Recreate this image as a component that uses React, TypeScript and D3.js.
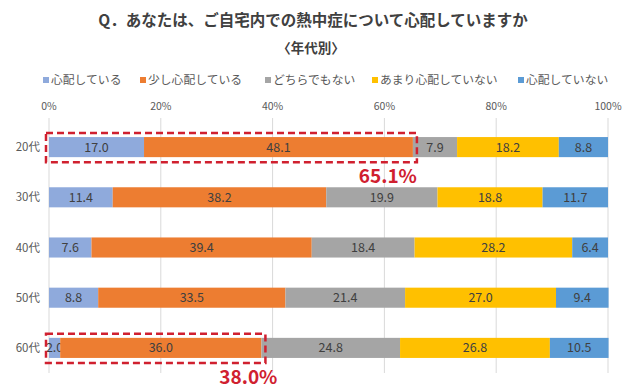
import React, { useEffect, useRef } from 'react';
import * as d3 from 'd3';

const categories = ['20代', '30代', '40代', '50代', '60代'];
const seriesNames = ['心配している', '少し心配している', 'どちらでもない', 'あまり心配していない', '心配していない'];
const s1 = [17.0, 11.4, 7.6, 8.8, 2.0];
const s2 = [48.1, 38.2, 39.4, 33.5, 36.0];
const s3 = [7.9, 19.9, 18.4, 21.4, 24.8];
const s4 = [18.2, 18.8, 28.2, 27.0, 26.8];
const s5 = [8.8, 11.7, 6.4, 9.4, 10.5];
const tickValues = [0, 20, 40, 60, 80, 100];
// 強調枠（カテゴリ, 合計）
const highlights = [
  { cat: '20代', total: 65.1 },
  { cat: '60代', total: 38.0 },
];

const colors = ['#8faadc', '#ed7d31', '#a5a5a5', '#ffc000', '#5b9bd5'];
const FONT = '"Noto Sans CJK JP", "Noto Sans", sans-serif';

const App = () => {
  const ref = useRef<SVGSVGElement>(null);

  useEffect(() => {
    const width = 640;
    const height = 392;
    const svg = d3.select(ref.current);
    svg.selectAll('*').remove();

    const series = [s1, s2, s3, s4, s5];
    const rows = categories.map((c, i) => {
      const r: any = { cat: c };
      seriesNames.forEach((k, j) => (r[k] = series[j][i]));
      return r;
    });
    const stacked = d3.stack().keys(seriesNames)(rows);

    const x = d3.scaleLinear().domain([0, 100]).range([49, 608]);
    const y = d3.scaleBand().domain(categories).range([122, 373]).paddingInner(0.6).paddingOuter(0.3);

    svg.append('rect').attr('width', width).attr('height', height).attr('fill', '#fff');

    // タイトル
    svg.append('text')
      .attr('x', 313).attr('y', 20).attr('dy', '0.36em')
      .attr('text-anchor', 'middle')
      .style('font-family', FONT).style('font-size', '15.5px').style('font-weight', 'bold')
      .attr('fill', '#404040')
      .text('Q．あなたは、ご自宅内での熱中症について心配していますか');
    svg.append('text')
      .attr('x', 311).attr('y', 48).attr('dy', '0.36em')
      .attr('text-anchor', 'middle')
      .style('font-family', FONT).style('font-size', '13.5px').style('font-weight', 'bold')
      .attr('fill', '#404040')
      .text('〈年代別〉');

    // 凡例
    const legendX = [43, 140, 265, 372, 518];
    const lg = svg.append('g').selectAll('g').data(seriesNames).enter().append('g')
      .attr('transform', (d, i) => `translate(${legendX[i]},80)`);
    lg.append('rect').attr('x', 0).attr('y', -3).attr('width', 6).attr('height', 6)
      .attr('fill', (d, i) => colors[i]);
    lg.append('text').attr('x', 8).attr('y', 0).attr('dy', '0.36em')
      .style('font-family', FONT).style('font-size', '11.8px').attr('fill', '#595959')
      .text(d => d);

    // 目盛とグリッド
    svg.append('g')
      .selectAll('line').data(tickValues).enter().append('line')
      .attr('x1', d => x(d)).attr('x2', d => x(d))
      .attr('y1', 118).attr('y2', 373)
      .attr('stroke', '#d9d9d9').attr('stroke-width', 1);
    svg.append('g')
      .selectAll('text').data(tickValues).enter().append('text')
      .attr('x', d => x(d)).attr('y', 106).attr('dy', '0.35em')
      .attr('text-anchor', 'middle')
      .style('font-family', FONT).style('font-size', '10.5px').attr('fill', '#595959')
      .text(d => `${d}%`);

    // カテゴリラベル
    svg.append('g')
      .selectAll('text').data(categories).enter().append('text')
      .attr('x', 40).attr('y', d => (y(d) as number) + y.bandwidth() / 2).attr('dy', '0.35em')
      .attr('text-anchor', 'end')
      .style('font-family', FONT).style('font-size', '11.5px').attr('fill', '#595959')
      .text(d => d);

    // 棒
    const layers = svg.append('g').selectAll('g').data(stacked).enter().append('g')
      .attr('fill', (d, i) => colors[i]);
    layers.selectAll('rect').data(d => d).enter().append('rect')
      .attr('x', d => x(d[0]))
      .attr('y', d => y((d.data as any).cat) as number)
      .attr('width', d => x(d[1]) - x(d[0]))
      .attr('height', y.bandwidth());

    // 値ラベル
    layers.selectAll('text').data(d => d).enter().append('text')
      .attr('x', d => (x(d[0]) + x(d[1])) / 2)
      .attr('y', d => (y((d.data as any).cat) as number) + y.bandwidth() / 2)
      .attr('dy', '0.36em')
      .attr('text-anchor', 'middle')
      .style('font-family', FONT).style('font-size', '12.5px').attr('fill', '#404040')
      .text(d => (d[1] - d[0]).toFixed(1));

    // 強調枠
    const hg = svg.append('g').selectAll('g').data(highlights).enter().append('g');
    hg.append('rect')
      .attr('x', 46)
      .attr('y', d => (y(d.cat) as number) - 4)
      .attr('width', d => x(d.total) + 4 - 46)
      .attr('height', y.bandwidth() + 9)
      .attr('fill', 'none')
      .attr('stroke', '#d0202f').attr('stroke-width', 2.5)
      .attr('stroke-dasharray', '7,4');
    hg.append('text')
      .attr('x', d => x(d.total) + (d.total < 50 ? 16 : 4))
      .attr('y', d => (y(d.cat) as number) + y.bandwidth() + 26)
      .attr('text-anchor', 'end')
      .style('font-family', FONT).style('font-size', '19px').style('font-weight', 'bold')
      .attr('fill', '#d0202f')
      .text(d => `${d.total.toFixed(1)}%`);
  }, []);

  return (
    <svg ref={ref} width={640} height={392}
      style={{ position: 'absolute', left: 0, top: 0, display: 'block' }} />
  );
};

export default App;
